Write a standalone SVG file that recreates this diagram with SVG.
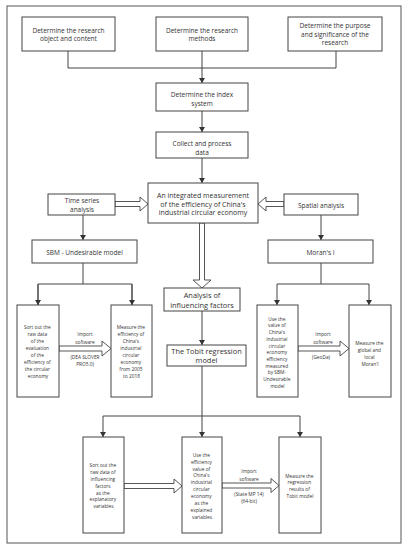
<svg xmlns="http://www.w3.org/2000/svg" width="406" height="550" viewBox="0 0 406 550">
<defs>
<marker id="ah" markerWidth="6" markerHeight="6" refX="5" refY="3" orient="auto" markerUnits="userSpaceOnUse">
<path d="M0,0 L5,3 L0,6 Z" fill="#333"/>
</marker>
<style>
.box{fill:#fff;stroke:#444;stroke-width:1}
.ln{fill:none;stroke:#444;stroke-width:1}
.arr{fill:none;stroke:#444;stroke-width:1;marker-end:url(#ah)}
.hol{fill:#fff;stroke:#444;stroke-width:0.9;stroke-linejoin:miter}
text{font-family:"Open Sans","Noto Sans","DejaVu Sans",sans-serif;fill:#333;text-anchor:middle}
.t1{font-size:6.5px}
.t2{font-size:7px}
.t3{font-size:7.4px}
.ts{font-size:4.8px}
</style>
</defs>
<rect x="7" y="6" width="394" height="537" fill="#fff" stroke="#555" stroke-width="1"/>

<g id="connectors">
<polyline class="ln" points="68,51 68,68 336,68 336,51"/>
<line class="arr" x1="202" y1="51" x2="202" y2="83"/>
<line class="arr" x1="202" y1="111" x2="202" y2="132"/>
<line class="arr" x1="202" y1="158" x2="202" y2="183"/>
<path class="hol" d="M115,201.5 L140,201.5 L140,197 L148,204 L140,211 L140,206.5 L115,206.5 Z"/>
<path class="hol" d="M284,201.5 L266,201.5 L266,197 L258,204 L266,211 L266,206.5 L284,206.5 Z"/>
<line class="arr" x1="83" y1="215" x2="83" y2="240"/>
<line class="arr" x1="321" y1="215" x2="321" y2="240"/>
<path class="hol" d="M199.5,223 L199.5,280 L193,280 L202,288 L211,280 L204.5,280 L204.5,223 Z"/>
<line class="ln" x1="83" y1="263" x2="83" y2="284"/>
<polyline class="ln" points="38,305 38,284 132,284 132,305"/>
<line class="arr" x1="38" y1="284" x2="38" y2="305"/>
<line class="arr" x1="132" y1="284" x2="132" y2="305"/>
<line class="ln" x1="321" y1="263" x2="321" y2="284"/>
<line class="ln" x1="277" y1="284" x2="369" y2="284"/>
<line class="arr" x1="277" y1="284" x2="277" y2="305"/>
<line class="arr" x1="369" y1="284" x2="369" y2="305"/>
<path class="hol" d="M59,346 L102,346 L102,341 L111,348.5 L102,356 L102,351 L59,351 Z"/>
<path class="hol" d="M298,346 L340,346 L340,341 L349,348.5 L340,356 L340,351 L298,351 Z"/>
<line class="arr" x1="202" y1="311" x2="202" y2="345"/>
<line class="arr" x1="202" y1="366" x2="202" y2="437"/>
<line class="ln" x1="103" y1="416" x2="300" y2="416"/>
<line class="arr" x1="103" y1="416" x2="103" y2="437"/>
<line class="arr" x1="300" y1="416" x2="300" y2="437"/>
<path class="hol" d="M124,483.5 L174,483.5 L174,479 L182,486 L174,493 L174,488.5 L124,488.5 Z"/>
<path class="hol" d="M222,483 L271,483 L271,478.5 L279,485.5 L271,492.5 L271,488 L222,488 Z"/>
<text class="ts" x="85" y="336">Import</text>
<text class="ts" x="85" y="344">software</text>
<text class="ts" x="85" y="359">(DEA SLOVER</text>
<text class="ts" x="85" y="366">PRO5.0)</text>
<text class="ts" x="323" y="336">Import</text>
<text class="ts" x="323" y="344">software</text>
<text class="ts" x="321" y="359">(GeoDa)</text>
<text class="ts" x="249" y="473">Import</text>
<text class="ts" x="249" y="481">software</text>
<text class="ts" x="249" y="496">(State MP 14)</text>
<text class="ts" x="249" y="503">(64-bit)</text>
</g>

<g id="n_object"><rect class="box" x="22" y="17" width="93" height="34"/>
<text class="t1" x="68.5" y="33.3">Determine the research</text>
<text class="t1" x="68.5" y="41.3">object and content</text></g>

<g id="n_methods"><rect class="box" x="156" y="17" width="92" height="34"/>
<text class="t1" x="202" y="33.3">Determine the research</text>
<text class="t1" x="202" y="41.3">methods</text></g>

<g id="n_purpose"><rect class="box" x="288" y="17" width="94" height="34"/>
<text class="t1" x="335" y="28.3">Determine the purpose</text>
<text class="t1" x="335" y="36.8">and significance of the</text>
<text class="t1" x="335" y="45.3">research</text></g>

<g id="n_index"><rect class="box" x="156" y="83" width="92" height="28"/>
<text class="t1" x="202" y="96.6">Determine the index</text>
<text class="t1" x="202" y="105.6">system</text></g>

<g id="n_collect"><rect class="box" x="156" y="132" width="92" height="26"/>
<text class="t1" x="202" y="145.6">Collect and process</text>
<text class="t1" x="202" y="154.6">data</text></g>

<g id="n_integrated"><rect class="box" x="148" y="183" width="110" height="40"/>
<text class="t2" x="203" y="198.4">An integrated measurement</text>
<text class="t2" x="203" y="206.9">of the efficiency of China's</text>
<text class="t2" x="203" y="215.4">industrial circular economy</text></g>

<g id="n_time"><rect class="box" x="48" y="194" width="67" height="21"/>
<text class="t1" x="82" y="203">Time series</text>
<text class="t1" x="82" y="212.3">analysis</text></g>

<g id="n_spatial"><rect class="box" x="284" y="194" width="74" height="21"/>
<text class="t1" x="321" y="208">Spatial analysis</text></g>

<g id="n_sbm"><rect class="box" x="32" y="240" width="105" height="23"/>
<text class="t1" x="84.5" y="254.8">SBM - Undesirable model</text></g>

<g id="n_moran"><rect class="box" x="268" y="240" width="105" height="23"/>
<text class="t1" x="320.5" y="254.5">Moran's I</text></g>

<g id="n_sortraw"><rect class="box" x="17" y="305" width="42" height="92"/>
<text class="ts">
<tspan x="38" y="329.4">Sort out the</tspan>
<tspan x="38" y="336.3">raw data</tspan>
<tspan x="38" y="343.2">of the</tspan>
<tspan x="38" y="350.1">evaluation</tspan>
<tspan x="38" y="357">of the</tspan>
<tspan x="38" y="363.9">efficiency of</tspan>
<tspan x="38" y="370.8">the circular</tspan>
<tspan x="38" y="377.7">economy</tspan>
</text></g>

<g id="n_measeff"><rect class="box" x="111" y="305" width="41" height="92"/>
<text class="ts">
<tspan x="131.5" y="329.4">Measure the</tspan>
<tspan x="131.5" y="336.3">efficiency of</tspan>
<tspan x="131.5" y="343.2">China's</tspan>
<tspan x="131.5" y="350.1">industrial</tspan>
<tspan x="131.5" y="357">circular</tspan>
<tspan x="131.5" y="363.9">economy</tspan>
<tspan x="131.5" y="370.8">from 2005</tspan>
<tspan x="131.5" y="377.7">to 2018</tspan>
</text></g>

<g id="n_usevalue"><rect class="box" x="257" y="305" width="41" height="92"/>
<text class="ts">
<tspan x="277.5" y="320.7">Use the</tspan>
<tspan x="277.5" y="327.4">value of</tspan>
<tspan x="277.5" y="334.1">China's</tspan>
<tspan x="277.5" y="340.8">industrial</tspan>
<tspan x="277.5" y="347.5">circular</tspan>
<tspan x="277.5" y="354.2">economy</tspan>
<tspan x="277.5" y="360.9">efficiency</tspan>
<tspan x="277.5" y="367.6">measured</tspan>
<tspan x="277.5" y="374.3">by SBM-</tspan>
<tspan x="277.5" y="381">Undesirable</tspan>
<tspan x="277.5" y="387.7">model</tspan>
</text></g>

<g id="n_global"><rect class="box" x="349" y="305" width="42" height="92"/>
<text class="ts">
<tspan x="370" y="344.7">Measure the</tspan>
<tspan x="370" y="351.7">global and</tspan>
<tspan x="370" y="358.7">local</tspan>
<tspan x="370" y="365.7">Moran'I</tspan>
</text></g>

<g id="n_analysis"><rect class="box" x="164" y="288" width="76" height="23"/>
<text class="t3" x="202" y="297.6">Analysis of</text>
<text class="t3" x="202" y="307.6">influencing factors</text></g>

<g id="n_tobit"><rect class="box" x="167" y="345" width="79" height="21"/>
<text class="t3" x="206.5" y="354.3">The Tobit regression</text>
<text class="t3" x="206.5" y="362.8">model</text></g>

<g id="n_sortinf"><rect class="box" x="83" y="437" width="41" height="96"/>
<text class="ts">
<tspan x="103.5" y="467.4">Sort out the</tspan>
<tspan x="103.5" y="474.2">raw data of</tspan>
<tspan x="103.5" y="481">influencing</tspan>
<tspan x="103.5" y="487.8">factors</tspan>
<tspan x="103.5" y="494.6">as the</tspan>
<tspan x="103.5" y="501.4">explanatory</tspan>
<tspan x="103.5" y="508.2">variables</tspan>
</text></g>

<g id="n_useeff"><rect class="box" x="182" y="437" width="40" height="96"/>
<text class="ts">
<tspan x="202" y="456.7">Use the</tspan>
<tspan x="202" y="463.6">efficiency</tspan>
<tspan x="202" y="470.5">value of</tspan>
<tspan x="202" y="477.4">China's</tspan>
<tspan x="202" y="484.3">industrial</tspan>
<tspan x="202" y="491.2">circular</tspan>
<tspan x="202" y="498.1">economy</tspan>
<tspan x="202" y="505">as the</tspan>
<tspan x="202" y="511.9">explained</tspan>
<tspan x="202" y="518.8">variables</tspan>
</text></g>

<g id="n_regress"><rect class="box" x="279" y="437" width="42" height="96"/>
<text class="ts">
<tspan x="300" y="477.7">Measure the</tspan>
<tspan x="300" y="484.4">regression</tspan>
<tspan x="300" y="491.1">results of</tspan>
<tspan x="300" y="497.8">Tobit model</tspan>
</text></g>
</svg>
